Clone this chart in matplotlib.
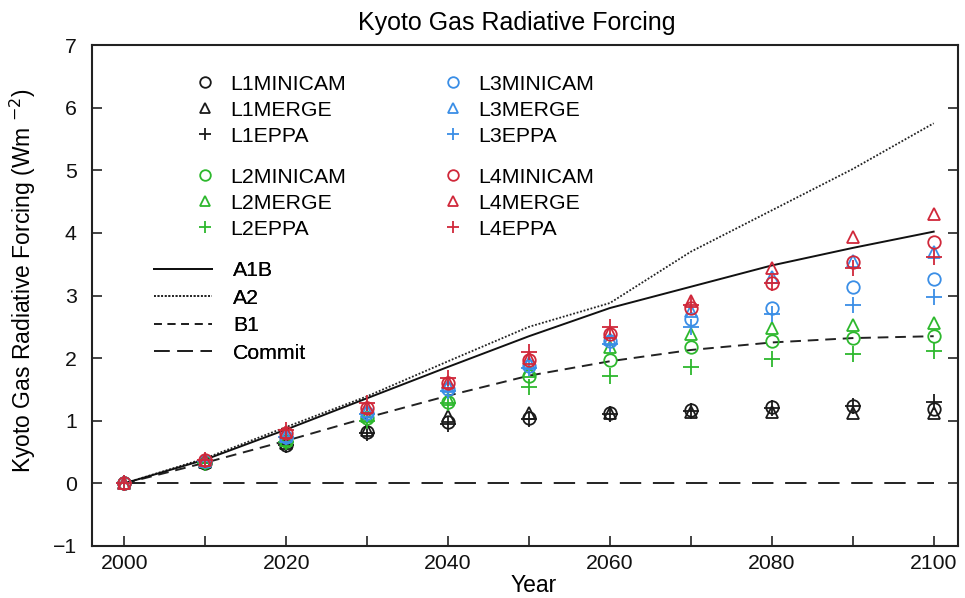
import matplotlib
matplotlib.use("Agg")
import matplotlib.pyplot as plt
from matplotlib.lines import Line2D

plt.rcParams['font.family'] = ['Liberation Sans', 'DejaVu Sans']

years = [2000, 2010, 2020, 2030, 2040, 2050, 2060, 2070, 2080, 2090, 2100]

# Scenario curves
a1b = [0, 0.38, 0.86, 1.36, 1.86, 2.35, 2.80, 3.14, 3.48, 3.76, 4.02]
a2 = [0, 0.40, 0.90, 1.39, 1.95, 2.50, 2.88, 3.70, 4.36, 5.02, 5.75]
b1 = [0, 0.33, 0.68, 1.05, 1.40, 1.72, 1.95, 2.13, 2.25, 2.32, 2.35]
commit = [0, 0, 0, 0, 0, 0, 0, 0, 0, 0, 0]

# Model results per stabilization level
l1_minicam = [0, 0.33, 0.62, 0.82, 0.98, 1.05, 1.12, 1.17, 1.22, 1.24, 1.18]
l1_merge = [0, 0.34, 0.65, 0.86, 1.08, 1.12, 1.13, 1.14, 1.14, 1.12, 1.12]
l1_eppa = [0, 0.33, 0.62, 0.80, 0.95, 1.02, 1.10, 1.15, 1.20, 1.24, 1.30]
l2_minicam = [0, 0.34, 0.68, 1.04, 1.30, 1.72, 1.97, 2.18, 2.28, 2.32, 2.35]
l2_merge = [0, 0.35, 0.70, 1.08, 1.35, 1.80, 2.18, 2.38, 2.48, 2.53, 2.56]
l2_eppa = [0, 0.33, 0.66, 1.00, 1.28, 1.54, 1.72, 1.86, 1.98, 2.07, 2.12]
l3_minicam = [0, 0.35, 0.74, 1.12, 1.50, 1.88, 2.27, 2.62, 2.80, 3.14, 3.26]
l3_merge = [0, 0.36, 0.76, 1.15, 1.55, 1.92, 2.30, 2.75, 3.30, 3.55, 3.70]
l3_eppa = [0, 0.35, 0.74, 1.10, 1.48, 1.84, 2.22, 2.50, 2.70, 2.85, 2.98]
l4_minicam = [0, 0.37, 0.80, 1.20, 1.60, 1.97, 2.38, 2.80, 3.20, 3.54, 3.86]
l4_merge = [0, 0.38, 0.82, 1.22, 1.62, 2.00, 2.42, 2.91, 3.44, 3.93, 4.30]
l4_eppa = [0, 0.38, 0.85, 1.28, 1.68, 2.10, 2.50, 2.85, 3.20, 3.44, 3.62]

colors = {'L1': '#1a1a1a', 'L2': '#2db82d', 'L3': '#3a8ee6', 'L4': '#d0283a'}

fig = plt.figure(figsize=(9.65, 5.98), dpi=100)
ax = fig.add_axes([0.0953, 0.087, 0.8974, 0.8377])

ax.plot(years, commit, color='#222222', lw=1.4, dashes=(11, 6))
ax.plot(years, b1, color='#222222', lw=1.4, dashes=(5.5, 3.5))
ax.plot(years, a2, color='#222222', lw=1.3, dashes=(1, 1))
ax.plot(years, a1b, color='#111111', lw=1.4)

groups = [
    ('L1', l1_minicam, l1_merge, l1_eppa),
    ('L2', l2_minicam, l2_merge, l2_eppa),
    ('L3', l3_minicam, l3_merge, l3_eppa),
    ('L4', l4_minicam, l4_merge, l4_eppa),
]
mstyle = dict(linestyle='none', markerfacecolor='none', markeredgewidth=1.3)
handles = {}
for lvl, mini, merge, eppa in groups:
    c = colors[lvl]
    h1, = ax.plot(years, mini, marker='o', markersize=9, color=c, **mstyle)
    h2, = ax.plot(years, merge, marker='^', markersize=9, color=c, **mstyle)
    h3, = ax.plot(years, eppa, marker='+', markersize=11, color=c, **mstyle)
    handles[lvl] = [(h1, lvl + 'MINICAM'), (h2, lvl + 'MERGE'), (h3, lvl + 'EPPA')]

leg_kw = dict(frameon=False, fontsize=15.3, handlelength=0.75, handletextpad=0.8,
              labelspacing=0.33, borderaxespad=0, markerscale=0.85)
anchors = {'L1': (0.112, 0.958), 'L2': (0.112, 0.772), 'L3': (0.398, 0.958), 'L4': (0.398, 0.772)}
for lvl in ['L1', 'L2', 'L3', 'L4']:
    hs = [h for h, _ in handles[lvl]]
    ls = [l for _, l in handles[lvl]]
    lg = ax.legend(hs, ls, loc='upper left', bbox_to_anchor=anchors[lvl], **leg_kw)
    ax.add_artist(lg)

line_handles = [
    Line2D([], [], color='#111111', lw=1.4),
    Line2D([], [], color='#222222', lw=1.3, dashes=(1, 1)),
    Line2D([], [], color='#222222', lw=1.4, dashes=(4, 3)),
    Line2D([], [], color='#222222', lw=1.4, dashes=(8, 4, 8, 4, 8, 3, 1, 3)),
]
lg = ax.legend(line_handles, ['A1B', 'A2', 'B1', 'Commit'], loc='upper left',
               bbox_to_anchor=(0.062, 0.585), frameon=False, fontsize=15.3,
               handlelength=2.7, handletextpad=1.0, labelspacing=0.4, borderaxespad=0)
ax.add_artist(lg)

ax.set_xlim(1996, 2103)
ax.set_ylim(-1, 7)
ax.set_xticks(range(2000, 2101, 10))
ax.set_xticklabels([str(y) if y % 20 == 0 else '' for y in range(2000, 2101, 10)])
ax.set_yticks(range(-1, 8))
ax.tick_params(direction='in', length=7, width=1.1, labelsize=15.3, right=True,
               pad=6, colors='#111111')
ax.tick_params(axis='y', pad=11)
ax.tick_params(axis='y', labelright=False)
for s in ax.spines.values():
    s.set_linewidth(1.5)
    s.set_color('#222222')

ax.set_xlabel('Year', fontsize=16.5)
ax.xaxis.set_label_coords(0.51, -0.055)
ax.set_ylabel('Kyoto Gas Radiative Forcing (Wm $^{-2}$)', fontsize=16.5)
ax.yaxis.set_label_coords(-0.062, 0.53)
ax.set_title('Kyoto Gas Radiative Forcing', fontsize=18, pad=11, x=0.49)

fig.savefig('out.png', dpi=100)
